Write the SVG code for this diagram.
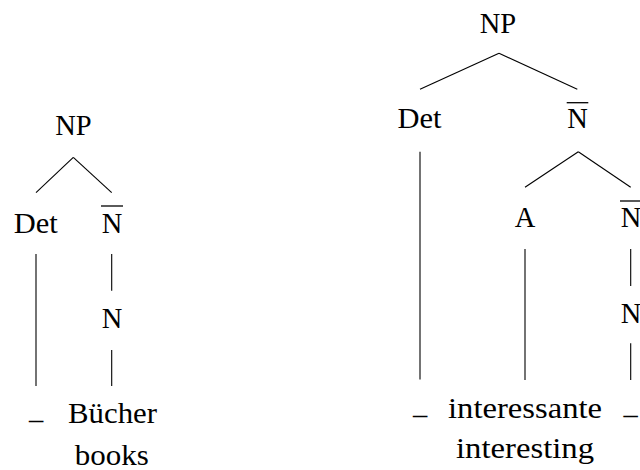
<svg xmlns="http://www.w3.org/2000/svg" width="640" height="470" viewBox="0 0 640 470">
<defs>
<style>
  .edge { stroke: #000; stroke-width: 1.1; fill: none; }
  .bar { stroke: #000; stroke-width: 1.3; }
</style>
</defs>
<rect width="640" height="470" fill="#fff"/>
<g id="connectors">
  <line class="edge" x1="73.3" y1="157.3" x2="36" y2="192.7"/>
  <line class="edge" x1="73.3" y1="157.3" x2="111.7" y2="192.7"/>
  <line class="edge" x1="36" y1="254" x2="36" y2="386"/>
  <line class="edge" x1="111.7" y1="254" x2="111.7" y2="290.7"/>
  <line class="edge" x1="111.7" y1="350" x2="111.7" y2="386"/>
  <line class="edge" x1="499" y1="53.3" x2="420" y2="89.3"/>
  <line class="edge" x1="499" y1="53.3" x2="577.3" y2="89.3"/>
  <line class="edge" x1="420" y1="151.7" x2="420" y2="379.5"/>
  <line class="edge" x1="578.3" y1="151.7" x2="525" y2="187.3"/>
  <line class="edge" x1="578.3" y1="151.7" x2="630.7" y2="187.3"/>
  <line class="edge" x1="525" y1="249" x2="525" y2="380"/>
  <line class="edge" x1="630.7" y1="249" x2="630.7" y2="286"/>
  <line class="edge" x1="630.7" y1="343.3" x2="630.7" y2="380"/>
</g>
<g id="tree1" font-family="Liberation Serif" font-size="28.5" text-anchor="middle" fill="#000">
  <g id="t1-np"><text x="73.5" y="135">NP</text></g>
  <g id="t1-det"><text x="35.7" y="233" textLength="44" lengthAdjust="spacingAndGlyphs">Det</text></g>
  <g id="t1-nbar"><text x="112" y="233">N</text><line class="bar" x1="101" y1="206" x2="123" y2="206"/></g>
  <g id="t1-n"><text x="112" y="328">N</text></g>
  <g id="t1-gap"><text x="36" y="419">_</text></g>
  <g id="t1-word"><text x="112.5" y="423" textLength="89" lengthAdjust="spacingAndGlyphs">Bücher</text>
    <text x="111.7" y="464.5" textLength="74" lengthAdjust="spacingAndGlyphs">books</text></g>
</g>
<g id="tree2" font-family="Liberation Serif" font-size="28.5" text-anchor="middle" fill="#000">
  <g id="t2-np"><text x="498" y="33">NP</text></g>
  <g id="t2-det"><text x="419.5" y="128.3" textLength="44" lengthAdjust="spacingAndGlyphs">Det</text></g>
  <g id="t2-nbar"><text x="577.5" y="128.3">N</text><line class="bar" x1="566.7" y1="102.7" x2="588.3" y2="102.7"/></g>
  <g id="t2-a"><text x="525" y="227">A</text></g>
  <g id="t2-nbar2"><text x="631" y="227">N</text><line class="bar" x1="620" y1="201" x2="642" y2="201"/></g>
  <g id="t2-n"><text x="631" y="323">N</text></g>
  <g id="t2-gap1"><text x="420" y="414">_</text></g>
  <g id="t2-word"><text x="525" y="418" textLength="154" lengthAdjust="spacingAndGlyphs">interessante</text>
    <text x="525" y="458.3" textLength="138" lengthAdjust="spacingAndGlyphs">interesting</text></g>
  <g id="t2-gap2"><text x="630.5" y="414">_</text></g>
</g>
</svg>
